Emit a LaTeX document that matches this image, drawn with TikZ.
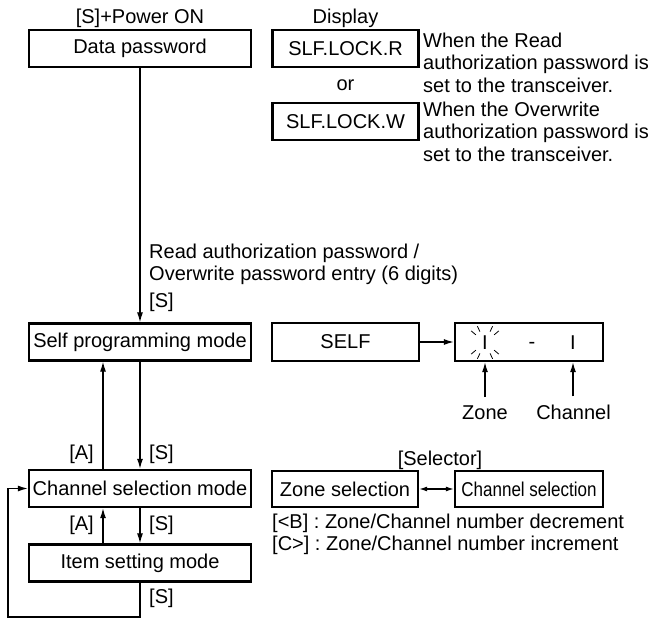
\documentclass[tikz,border=0pt]{standalone}
\usepackage{fontspec}
\usepackage{graphicx}
\setmainfont{Liberation Sans}
\usetikzlibrary{%
    arrows.meta,%
    positioning%
}

\begin{document}
\frenchspacing
\begin{tikzpicture}[x=1pt,y=-1pt,
    font=\fontsize{20}{22.6}\selectfont,
    modebox/.style={draw, line width=2.4pt, minimum width=222pt, minimum height=37pt, inner sep=0pt},
    dispbox/.style={draw, line width=2.4pt, minimum width=146pt, minimum height=37pt, inner sep=0pt},
    lbl/.style={inner sep=0pt},
    arr/.style={line width=1.2pt, -{Latex[length=10pt,width=6pt]}},
    dblarr/.style={line width=1.2pt, {Latex[length=8pt,width=5pt]}-{Latex[length=8pt,width=5pt]}},
    blink/.style={line width=0.8pt}]
\useasboundingbox (0,0) rectangle (662,618);

% modes (left column)
\node[modebox] (datapw) at (140,48.5) {Data password};
\node[modebox] (selfmode) at (140,342) {Self programming mode};
\node[modebox] (chsel) at (140,488.5) {Channel selection mode};
\node[modebox] (item) at (140,563) {Item setting mode};

\node[lbl, anchor=base] (poweron) at (140,23.5) {[S]+Power ON};

% display column
\node[lbl, anchor=base] (displbl) at (345.5,24) {Display};
\node[dispbox] (lockr) at (345.5,48.5) {SLF.LOCK.R};
\node[lbl, anchor=base] (orlbl) at (345.5,91) {or};
\node[dispbox] (lockw) at (345.5,121.5) {SLF.LOCK.W};
% base of a multi-line node = its last line
\node[lbl, anchor=base west, align=left] (readnote) at (423,92.2)
    {When the Read\\authorization password is\\set to the transceiver.};
\node[lbl, anchor=base west, align=left] (writenote) at (423,161.2)
    {When the Overwrite\\authorization password is\\set to the transceiver.};

\node[lbl, anchor=base west, align=left] (pwnote) at (149,280.6)
    {Read authorization password /\\Overwrite password entry (6 digits)};
\node[lbl, anchor=base west] (s1) at (149,307) {[S]};

% self display
\node[dispbox, minimum width=147pt, minimum height=38pt] (self) at (345.5,342) {SELF};
\node[dispbox, minimum width=148pt, minimum height=38pt] (disp) at (529,342) {};
\node[lbl] (zonedig) at (485,342.5) {I};
\node[lbl, anchor=base] (dash) at (532,348) {-};
\node[lbl] (chandig) at (573,342.5) {I};
\foreach \a in {40,65,115,140,220,245,295,320}
    \draw[blink] (zonedig.center) ++(\a:12) -- ++(\a:6);
\node[lbl, anchor=base] (zonelbl) at (485,419) {Zone};
\node[lbl, anchor=base] (chanlbl) at (573.5,419) {Channel};

\draw[arr] (self) -- (disp);
\draw[arr] ([yshift=8pt]zonelbl.north) -- (zonelbl.north |- disp.south);
\draw[arr] ([yshift=8pt]chanlbl.north -| chandig) -- (chandig |- disp.south);

% selector
\node[lbl, anchor=base] (sellbl) at (440,465) {[Selector]};
\node[dispbox, minimum height=36pt] (zonesel) at (345,489) {Zone selection};
\node[dispbox, minimum width=148pt, minimum height=36pt] (chanbox) at (529,489)
    {\scalebox{0.85}[1]{Channel selection}};
\draw[dblarr] (zonesel) -- (chanbox);
\node[lbl, anchor=base west, align=left] (keynote) at (272,550.6)
    {[<B] : Zone/Channel number decrement\\{}[C>] : Zone/Channel number increment};

% flow
\draw[arr] (datapw) -- (selfmode);
\draw[arr] (selfmode) -- (chsel);
\draw[arr] ([xshift=-37pt]chsel.north) -- ([xshift=-37pt]selfmode.south);
\draw[arr] (chsel) -- (item);
\draw[arr] ([xshift=-37pt]item.north) -- ([xshift=-37pt]chsel.south);
\coordinate (loopc) at (8,617);
\draw[arr] (item.south) |- (loopc) |- (chsel.west);

\node[lbl, anchor=base east] (a1) at (94,459) {[A]};
\node[lbl, anchor=base west] (s2) at (149,459) {[S]};
\node[lbl, anchor=base east] (a2) at (94,530) {[A]};
\node[lbl, anchor=base west] (s3) at (149,530) {[S]};
\node[lbl, anchor=base west] (s4) at (149,603) {[S]};
\end{tikzpicture}
\end{document}
